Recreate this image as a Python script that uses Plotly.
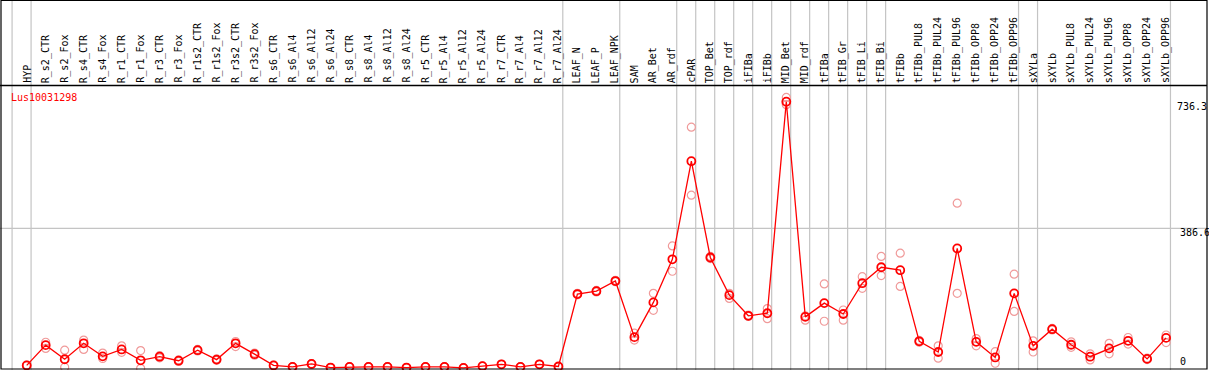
import plotly.graph_objects as go

categories = ["HYP", "R_s2_CTR", "R_s2_Fox", "R_s4_CTR", "R_s4_Fox", "R_r1_CTR", "R_r1_Fox",
              "R_r3_CTR", "R_r3_Fox", "R_r1s2_CTR", "R_r1s2_Fox", "R_r3s2_CTR", "R_r3s2_Fox",
              "R_s6_CTR", "R_s6_Al4", "R_s6_Al12", "R_s6_Al24", "R_s8_CTR", "R_s8_Al4", "R_s8_Al12",
              "R_s8_Al24", "R_r5_CTR", "R_r5_Al4", "R_r5_Al12", "R_r5_Al24", "R_r7_CTR", "R_r7_Al4",
              "R_r7_Al12", "R_r7_Al24", "LEAF_N", "LEAF_P", "LEAF_NPK", "SAM", "AR_Bet", "AR_rdf",
              "cPAR", "TOP_Bet", "TOP_rdf", "iFIBa", "iFIBb", "MID_Bet", "MID_rdf", "tFIBa",
              "tFIB_Gr", "tFIB_Li", "tFIB_Bi", "tFIBb", "tFIBb_PUL8", "tFIBb_PUL24", "tFIBb_PUL96",
              "tFIBb_OPP8", "tFIBb_OPP24", "tFIBb_OPP96", "sXYLa", "sXYLb", "sXYLb_PUL8",
              "sXYLb_PUL24", "sXYLb_PUL96", "sXYLb_OPP8", "sXYLb_OPP24", "sXYLb_OPP96"]

mean_values = [8, 64, 25, 69, 33, 52, 22, 32, 21, 50, 24, 69, 39,
               8, 4, 12, 2, 4, 4, 4, 2, 4, 4, 1, 6, 11, 4, 11, 5,
               205, 213, 241, 86, 182, 301, 572, 306, 202, 145, 152, 736.3, 142, 180,
               150, 235, 279, 271, 74.5, 45, 331, 73, 30, 207, 62, 108, 65, 32, 55, 76, 26, 84]

rep1_values = [9, 72, 50, 78, 42, 62, 49, 35, 23, 52, 26, 74, 42,
               9, 4, 13, 2, 4, 4, 4, 2, 4, 4, 1, 6, 11, 4, 11, 5,
               207, 215, 243, 97, 207, 338, 666, 309, 207, 147, 165, 748, 133, 233,
               161, 253, 309, 318, 77, 62, 456, 82, 46, 260, 76, 110, 73, 40, 69, 85, 28, 92]

rep2_values = [7, 55, 3, 52, 27, 44, 0, 29, 19, 48, 22, 60, 36,
               7, 4, 11, 2, 4, 4, 4, 2, 4, 4, 1, 6, 11, 4, 11, 5,
               203, 211, 239, 78, 160, 268, 478, 303, 193, 143, 137, 728, 145, 130,
               133, 221, 256, 226, 72, 28, 207, 62, 14, 157, 45, 106, 58, 23, 40, 67, 24, 71]

group_ends = ["HYP", "R_r7_Al24", "LEAF_NPK", "AR_rdf", "cPAR", "TOP_Bet", "TOP_rdf", "iFIBa",
              "iFIBb", "MID_Bet", "MID_rdf", "tFIBa", "tFIB_Gr", "tFIB_Li", "tFIB_Bi",
              "tFIBb_OPP96", "sXYLa", "sXYLb_OPP96"]

gene_name = "Lus10031298"
tick_values = [736.3, 386.6, 0]
tick_labels = ["736.3", "386.6", "0"]

W, H = 1209, 370
FONT = "DejaVu Sans Mono"
idx = list(range(len(categories)))

# pixel mapping helpers (layout only)
x0_px, dx_px = 26.7, 18.99
y0_px, dy_px = 368.3, 0.3621
x_range = [(0 - x0_px) / dx_px, (W - x0_px) / dx_px]
y_range = [(y0_px - H) / dy_px, y0_px / dy_px]


def py(px):
    return 1 - px / H


fig = go.Figure()

fig.add_trace(go.Scatter(
    x=idx + idx, y=rep1_values + rep2_values, mode="markers",
    marker=dict(symbol="circle-open", size=8, color="#f09a9a", line=dict(width=1.2)),
    hoverinfo="skip", showlegend=False))

fig.add_trace(go.Scatter(
    x=idx, y=mean_values, mode="lines+markers",
    line=dict(color="#ff0000", width=1.3),
    marker=dict(symbol="circle-open", size=8, color="#ff0000", line=dict(width=1.8)),
    text=categories, showlegend=False))

shapes = []
# separator lines
sep_positions = [-1] + [categories.index(g) for g in group_ends]
for s in sep_positions:
    shapes.append(dict(type="line", xref="x", yref="paper", x0=s + 0.23, x1=s + 0.23,
                       y0=0, y1=1, line=dict(color="#c4c4c4", width=1.2), layer="below"))
# gridline
shapes.append(dict(type="line", xref="paper", yref="y", x0=0, x1=1207 / W, y0=tick_values[1], y1=tick_values[1],
                   line=dict(color="#c4c4c4", width=1.2), layer="below"))
# borders
shapes.append(dict(type="line", xref="paper", yref="paper", x0=0, x1=1207 / W, y0=py(85.5), y1=py(85.5),
                   line=dict(color="black", width=1.6)))
shapes.append(dict(type="rect", xref="paper", yref="paper", x0=1 / W, x1=1207 / W, y0=py(369), y1=py(0.5),
                   line=dict(color="black", width=1.2)))

annotations = []
for i, c in enumerate(categories):
    annotations.append(dict(x=i, y=py(84), xref="x", yref="paper", text=c, textangle=-90,
                            showarrow=False, xanchor="center", yanchor="bottom", borderpad=0,
                            font=dict(family=FONT, size=10, color="black")))
annotations.append(dict(x=9 / W, y=py(97), xref="paper", yref="paper", text=gene_name,
                        showarrow=False, xanchor="left", yanchor="middle",
                        font=dict(family=FONT, size=10, color="#ff0000")))
tick_px = [(1175, 107), (1178, 232), (1178, 361.5)]
for (tx, ty), lab in zip(tick_px, tick_labels):
    annotations.append(dict(x=tx / W, y=py(ty), xref="paper", yref="paper", text=lab,
                            showarrow=False, xanchor="left", yanchor="middle",
                            font=dict(family=FONT, size=10, color="black")))

fig.update_layout(
    width=W, height=H, margin=dict(l=0, r=0, t=0, b=0),
    paper_bgcolor="white", plot_bgcolor="white",
    xaxis=dict(range=x_range, visible=False, fixedrange=True),
    yaxis=dict(range=y_range, visible=False, fixedrange=True),
    shapes=shapes, annotations=annotations, showlegend=False)

fig.write_html("out.html", config={"displayModeBar": False},
               post_script="document.body.style.margin='0';")
